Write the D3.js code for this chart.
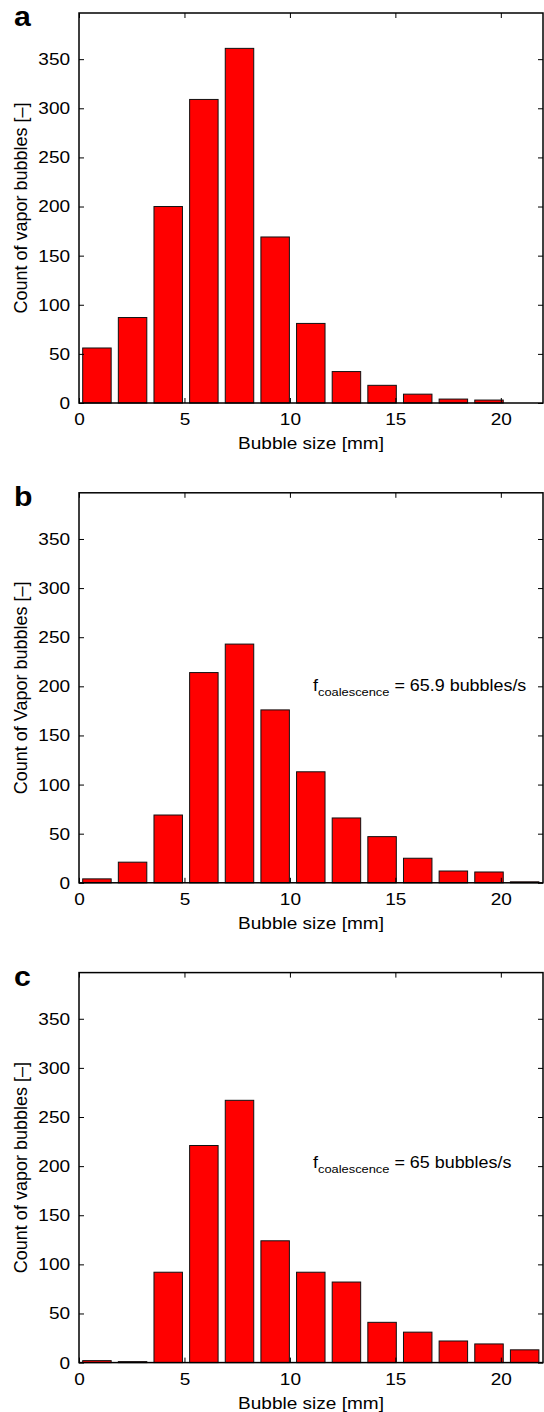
<!DOCTYPE html>
<html>
<head>
<meta charset="utf-8">
<script src="https://cdn.jsdelivr.net/npm/d3@7"></script>
<style>
  body { margin: 0; background: #fff; }
  text { font-family: "Liberation Sans", Arial, Helvetica, sans-serif; fill: #000; }
</style>
</head>
<body>
<svg id="graph"></svg>
<script>
// bubble size bins (centres, mm) and counts
var binCenters = [0.85, 2.54, 4.23, 5.92, 7.61, 9.30, 10.99, 12.68, 14.37, 16.06, 17.75, 19.44, 21.13];
var countsA = [56, 87, 200, 309, 361, 169, 81, 32, 18, 9, 4, 3, 0];
var countsB = [4, 21, 69, 214, 243, 176, 113, 66, 47, 25, 12, 11, 1];
var countsC = [2, 1, 92, 221, 267, 124, 92, 82, 41, 31, 22, 19, 13];
var xTicks = [0, 5, 10, 15, 20];
var yTicks = [0, 50, 100, 150, 200, 250, 300, 350];
var panelLetters = ["a", "b", "c"];
var yTitles = ["Count of vapor bubbles [\u2013]", "Count of Vapor bubbles [\u2013]", "Count of vapor bubbles [\u2013]"];
var xTitle = "Bubble size [mm]";
var noteValues = [null, "65.9", "65"];
var noteY = [null, 195, 198];

var screen = { width: 544, height: 1412 };
var margins = { top: 13, left: 79, right: 1 };
var panelStep = 479.8;
var graphHeight = 390;
var graphWidth = screen.width - margins.left - margins.right;
var barWidth = 1.35;   // in mm, MATLAB hist bar width
var tickLen = 5;
var stretch = 1.12;    // the figure was scaled wider than tall

var svg = d3.select("#graph")
  .attr("width", screen.width)
  .attr("height", screen.height);

var xScale = d3.scaleLinear()
  .domain([0, 22])
  .range([margins.left, margins.left + graphWidth]);

// text placed at x,y and stretched horizontally
var addText = function(parent, x, y, size)
{
  return parent.append("g")
    .attr("transform", "translate(" + x + "," + y + ") scale(" + stretch + ",1)")
    .append("text")
    .attr("font-size", size);
};

var drawChart = function(counts, k)
{
  var top = margins.top + k * panelStep;
  var bottom = top + graphHeight;

  var yScale = d3.scaleLinear()
    .domain([0, 397])
    .range([bottom, top]);

  var g = svg.append("g").classed("panel", true);

  // bars
  g.selectAll("rect.bar")
    .data(binCenters)
    .enter()
    .append("rect")
    .classed("bar", true)
    .attr("x", function(c){ return xScale(c - barWidth / 2); })
    .attr("width", function(c){ return xScale(c + barWidth / 2) - xScale(c - barWidth / 2); })
    .attr("y", function(c, i){ return yScale(counts[i]); })
    .attr("height", function(c, i){ return yScale(0) - yScale(counts[i]); })
    .attr("fill", "#ff0000")
    .style("stroke", "#111")
    .style("stroke-width", 1);

  // axes (MATLAB style: ticks inward, mirrored)
  var xAxis = g.append("g")
    .attr("transform", "translate(0," + bottom + ")")
    .call(d3.axisBottom(xScale).tickValues(xTicks).tickSizeInner(-tickLen).tickSizeOuter(0).tickPadding(10));
  var xTop = g.append("g")
    .attr("transform", "translate(0," + top + ")")
    .call(d3.axisTop(xScale).tickValues(xTicks).tickSizeInner(-tickLen).tickSizeOuter(0).tickFormat(""));
  var yAxis = g.append("g")
    .attr("transform", "translate(" + margins.left + ",0)")
    .call(d3.axisLeft(yScale).tickValues(yTicks).tickSizeInner(-tickLen).tickSizeOuter(0).tickPadding(8));
  var yRight = g.append("g")
    .attr("transform", "translate(" + (margins.left + graphWidth) + ",0)")
    .call(d3.axisRight(yScale).tickValues(yTicks).tickSizeInner(-tickLen).tickSizeOuter(0).tickFormat(""));

  [xAxis, xTop, yAxis, yRight].forEach(function(a){
    a.select(".domain").remove();
    a.selectAll("line").attr("stroke", "#000").attr("stroke-width", 1);
    a.selectAll("text")
      .attr("font-size", 17)
      .attr("font-family", null)
      .attr("transform", "scale(" + stretch + ",1)")
      .style("fill", "#000");
  });

  // frame
  g.append("rect")
    .attr("x", margins.left)
    .attr("y", top)
    .attr("width", graphWidth)
    .attr("height", graphHeight)
    .attr("fill", "none")
    .style("stroke", "#000")
    .style("stroke-width", 1.5);

  // titles
  addText(g, margins.left + graphWidth / 2, bottom + 46, 17)
    .text(xTitle)
    .attr("text-anchor", "middle");

  g.append("text")
    .text(yTitles[k])
    .attr("transform", "translate(27," + (top + graphHeight / 2) + ") rotate(-90)")
    .attr("text-anchor", "middle")
    .attr("font-size", 18);

  addText(g, 14, top + 13, 27)
    .text(panelLetters[k])
    .attr("font-weight", "bold");

  if (noteValues[k] !== null) {
    var note = addText(g, 313, yScale(noteY[k]), 16);
    note.append("tspan").text("f");
    note.append("tspan").text("coalescence").attr("font-size", 11.5).attr("dy", 5);
    note.append("tspan").text(" = " + noteValues[k] + " bubbles/s").attr("dy", -5);
  }
};

drawChart(countsA, 0);
drawChart(countsB, 1);
drawChart(countsC, 2);
</script>
</body>
</html>
